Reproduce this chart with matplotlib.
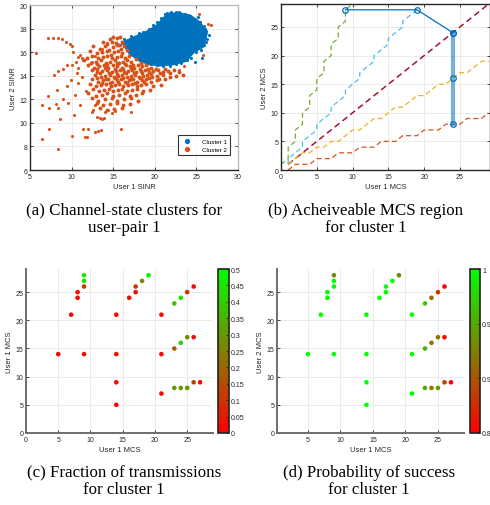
import numpy as np
import matplotlib
matplotlib.use('Agg')
import matplotlib.pyplot as plt
from matplotlib.colors import LinearSegmentedColormap

plt.rcParams['font.family'] = ['Liberation Sans', 'DejaVu Sans']

# ---------------- data: (a) channel-state clusters ----------------
blob_x = [16.2, 17.4, 19.0, 20.2, 21.4, 22.6, 24.2, 25.4, 26.2, 25.8, 24.6, 23.8, 22.2, 20.6, 19.4, 18.2, 17.0]
blob_y = [16.8, 17.2, 17.7, 18.2, 19.1, 19.3, 19.1, 18.5, 17.6, 16.5, 16.0, 15.3, 15.0, 14.9, 15.0, 15.3, 15.9]

c1_x = [16.0, 16.3, 16.8, 17.2, 17.6, 18.1, 18.6, 19.3, 19.8, 20.3, 20.7, 21.2, 21.8, 22.5, 23.0, 23.6,
        24.2, 24.8, 25.4, 25.9, 26.2, 26.5, 26.3, 25.9, 25.5, 24.9, 24.4, 23.9, 23.2, 22.5, 21.8, 21.0,
        20.3, 19.6, 18.9, 18.2, 17.6, 17.0, 16.5, 15.8, 25.7, 24.8, 26.2, 25.2, 21.5, 22.0, 22.9, 26.0]
c1_y = [16.8, 17.1, 17.0, 17.4, 17.3, 17.6, 17.7, 18.0, 18.3, 18.6, 18.9, 19.2, 19.3, 19.4, 19.3, 19.2,
        19.1, 18.8, 18.6, 18.2, 17.8, 17.5, 17.1, 16.6, 16.2, 16.0, 15.5, 15.3, 15.1, 15.0, 14.8, 14.8,
        14.9, 15.0, 15.2, 15.4, 15.7, 16.0, 16.4, 16.6, 15.5, 15.2, 16.9, 19.0, 19.3, 19.4, 19.4, 18.0]

c2_sparse_x = [5.7, 7.2, 7.8, 8.4, 8.8, 9.3, 9.8, 10.0, 10.2, 7.9, 8.4, 9.0, 9.5, 10.1, 10.5, 11.0, 11.3,
               10.8, 9.4, 8.2, 7.2, 6.5, 7.3, 8.1, 8.4, 9.0, 9.6, 8.6, 7.3, 6.5, 8.4, 10.0, 10.3, 10.8,
               11.0, 11.4, 12.0, 11.6, 11.8, 12.8, 13.2, 13.5, 12.4, 12.6, 12.8, 13.0, 13.0, 13.4, 13.7,
               13.9, 14.0, 14.4, 14.8, 15.2, 15.9, 17.2, 10.8, 11.4, 12.0, 12.4, 12.8, 13.6, 14.2,
               25.3, 26.4, 26.7, 25.8, 23.5, 22.9, 10.4, 11.2, 9.9, 11.7, 10.6]
c2_sparse_y = [15.9, 17.2, 17.2, 17.2, 17.1, 16.9, 16.7, 16.5, 16.0, 14.1, 14.4, 14.6, 14.9, 14.9, 15.2, 15.8, 15.5,
               14.7, 13.1, 12.8, 12.3, 11.5, 11.3, 11.6, 11.3, 12.0, 11.7, 10.3, 9.5, 8.6, 7.8, 8.9, 10.7, 13.4,
               11.5, 9.5, 9.5, 8.8, 8.8, 9.2, 9.3, 9.4, 10.9, 11.1, 11.5, 11.7, 10.5, 10.4, 10.3,
               10.4, 10.9, 11.1, 10.8, 11.0, 9.5, 10.9, 15.6, 15.3, 14.9, 15.2, 15.7, 16.3, 16.8,
               19.2, 18.4, 18.3, 15.8, 14.8, 14.5, 12.4, 13.9, 13.6, 12.7, 14.2]

# dense part of cluster 2
c2_dense_x = [
    14.6, 15.0, 15.4, 15.8,
    13.8, 14.3, 14.8, 15.3, 15.7, 16.0,
    12.6, 13.4, 14.0, 14.5, 15.0, 15.5, 15.9, 16.3,
    12.2, 13.0, 13.6, 14.2, 14.7, 15.1, 15.6, 16.1, 16.6,
    11.8, 12.5, 13.2, 13.8, 14.3, 14.9, 15.4, 15.9, 16.4, 16.9,
    11.5, 12.3, 12.9, 13.5, 14.1, 14.6, 15.2, 15.7, 16.2, 16.7, 17.2, 17.7,
    13.0, 14.3, 15.4, 16.4, 17.4, 18.3,
    12.0, 12.7, 13.3, 13.9, 14.4, 15.0, 15.5, 16.0, 16.5, 17.0, 17.5, 18.0, 18.5, 19.0, 19.6,
    13.0, 14.0, 15.2, 16.2, 17.2, 18.2, 19.2, 20.2, 21.2,
    12.4, 13.1, 13.7, 14.2, 14.8, 15.3, 15.8, 16.3, 16.8, 17.3, 17.8, 18.3, 18.8, 19.3, 19.8, 20.4, 21.0, 21.6, 22.3, 22.9,
    13.4, 14.5, 15.5, 16.5, 17.5, 18.5, 19.5, 20.6, 21.8,
    12.8, 13.5, 14.0, 14.6, 15.1, 15.6, 16.1, 16.6, 17.1, 17.6, 18.1, 18.6, 19.1, 19.7, 20.3, 21.0, 21.8, 22.5, 23.4,
    13.0, 14.1, 15.2, 16.2, 17.2, 18.2, 19.3, 20.5,
    12.5, 13.2, 13.8, 14.4, 14.9, 15.4, 15.9, 16.4, 16.9, 17.4, 17.9, 18.5, 19.0, 19.6, 20.3, 21.2,
    13.6, 14.6, 15.6, 16.6, 17.6, 18.7,
    12.2, 12.9, 13.5, 14.1, 14.7, 15.2, 15.7, 16.2, 16.8, 17.3, 17.9, 18.4, 19.0, 19.8, 20.8,
    12.6, 13.3, 13.9, 14.5, 15.0, 15.6, 16.1, 16.7, 17.3, 17.9, 18.6, 19.4,
    12.0, 12.9, 13.6, 14.3, 15.0, 15.7, 16.4, 17.0, 17.7, 18.5,
    12.4, 13.2, 14.0, 14.8, 15.5, 16.3, 17.1, 18.0,
    13.0, 13.8, 14.6, 15.4, 16.2, 17.0,
    13.4, 14.2, 15.1, 16.0,
]
c2_dense_y = [
    17.1, 17.3, 17.2, 17.3,
    16.9, 16.7, 16.9, 16.8, 16.6, 16.9,
    16.5, 16.3, 16.5, 16.2, 16.4, 16.6, 16.3, 16.5,
    16.1, 15.9, 16.0, 16.1, 15.8, 16.0, 16.1, 15.9, 16.2,
    15.5, 15.7, 15.5, 15.6, 15.7, 15.5, 15.6, 15.7, 15.5, 15.7,
    15.3, 15.1, 15.2, 15.3, 15.1, 15.2, 15.3, 15.1, 15.2, 15.3, 15.2, 15.4,
    15.0, 14.95, 15.05, 15.0, 14.95, 15.05,
    14.9, 14.7, 14.8, 14.9, 14.7, 14.9, 14.8, 14.7, 14.9, 14.8, 14.7, 14.9, 14.8, 14.9, 14.7,
    14.6, 14.65, 14.55, 14.6, 14.65, 14.55, 14.6, 14.6, 14.55,
    14.5, 14.3, 14.4, 14.5, 14.3, 14.4, 14.5, 14.3, 14.4, 14.5, 14.3, 14.4, 14.5, 14.3, 14.4, 14.5, 14.3, 14.4, 14.5, 14.3,
    14.2, 14.25, 14.15, 14.2, 14.25, 14.2, 14.15, 14.2, 14.25,
    14.1, 13.9, 14.0, 14.1, 13.9, 14.0, 14.1, 13.9, 14.0, 14.1, 13.9, 14.0, 14.1, 13.9, 14.0, 14.1, 13.9, 14.0, 14.1,
    13.8, 13.75, 13.85, 13.8, 13.75, 13.85, 13.8, 13.75,
    13.7, 13.5, 13.6, 13.7, 13.5, 13.6, 13.7, 13.5, 13.6, 13.7, 13.5, 13.6, 13.7, 13.5, 13.6, 13.7,
    13.4, 13.35, 13.45, 13.4, 13.35, 13.45,
    13.3, 13.1, 13.2, 13.3, 13.1, 13.2, 13.3, 13.1, 13.2, 13.3, 13.1, 13.2, 13.3, 13.1, 13.2,
    12.9, 12.7, 12.8, 12.9, 12.7, 12.8, 12.9, 12.7, 12.8, 12.9, 12.7, 12.8,
    12.5, 12.3, 12.4, 12.5, 12.3, 12.4, 12.5, 12.3, 12.4, 12.5,
    12.1, 11.9, 12.0, 12.1, 11.9, 12.0, 12.1, 11.9,
    11.7, 11.5, 11.6, 11.7, 11.5, 11.6,
    11.3, 11.1, 11.2, 11.3,
]

# ---------------- data: (b) achievable MCS region ----------------
green_x = [0, 1, 1, 2, 2, 3, 3, 4, 4, 5, 5, 6, 6, 7, 7, 8, 8, 9, 9, 10]
green_y = [1, 2, 4, 5, 7, 8, 10, 11, 13, 14, 16, 17, 19, 20, 22, 23, 25, 26, 28, 29]
cyan_x = [1, 1, 2, 3, 3, 4, 5, 5, 6, 7, 7, 8, 9, 9, 10, 11, 11, 12, 13, 13, 14, 15, 15, 16, 17, 17, 18, 19]
cyan_y = [1, 2, 3, 4, 5, 6, 7, 8, 9, 10, 11, 12, 13, 14, 15, 16, 17, 18, 19, 20, 21, 22, 23, 24, 25, 26, 27, 28]
diag_x = [1, 29]
diag_y = [1, 29]
yellow_x = [1, 2, 3, 4, 5, 6, 7, 8, 9, 10, 11, 12, 13, 14, 15, 16, 17, 18, 19, 20, 21, 22, 23, 24, 25, 26, 27, 28, 29]
yellow_y = [1, 2, 3, 3, 4, 4, 5, 5, 6, 7, 7, 8, 9, 9, 10, 11, 11, 12, 13, 13, 14, 15, 15, 16, 17, 17, 18, 19, 19]
red_x = [1, 2, 3, 4, 5, 6, 7, 8, 9, 10, 11, 12, 13, 14, 15, 16, 17, 18, 19, 20, 21, 22, 23, 24, 25, 26, 27, 28, 29]
red_y = [0, 1, 1, 1, 2, 2, 2, 3, 3, 3, 4, 4, 4, 5, 5, 5, 6, 6, 6, 7, 7, 7, 8, 8, 8, 9, 9, 9, 10]
region_x = [9, 19, 24]
region_y = [28, 28, 24]
vert_x = [24, 24, 24]
vert_y = [24, 16, 8]

# ---------------- data: (c), (d) MCS pairs of cluster 1 ----------------
mcs1 = [9, 9, 9, 8, 8, 7, 5, 9, 14, 14, 14, 14, 16, 17, 17, 18, 19,
        21, 21, 21, 23, 24, 25, 26, 23, 24, 25, 26, 23, 24, 25, 26, 27]
mcs2 = [28, 27, 26, 25, 24, 21, 14, 14, 21, 14, 9, 5, 24, 25, 26, 27, 28,
        21, 14, 7, 23, 24, 25, 26, 15, 16, 17, 17, 8, 8, 8, 9, 9]
frac_tx = [0.47, 0.45, 0.12, 0.03, 0.02, 0.02, 0.01, 0.01, 0.01, 0.01, 0.01, 0.01, 0.02, 0.03, 0.12, 0.27, 0.48,
           0.01, 0.01, 0.01, 0.37, 0.44, 0.10, 0.01, 0.18, 0.42, 0.27, 0.02, 0.30, 0.30, 0.30, 0.13, 0.02]
p_succ = [0.93, 1.0, 1.0, 1.0, 1.0, 1.0, 1.0, 1.0, 1.0, 1.0, 1.0, 1.0, 1.0, 1.0, 1.0, 1.0, 0.93,
          1.0, 1.0, 1.0, 0.97, 0.915, 0.885, 0.85, 0.96, 0.92, 0.92, 0.852, 0.95, 0.92, 0.94, 0.89, 0.851]

mat_blue = '#0072BD'
mat_orange = '#D95319'
grid_c = '#e3e3e3'
spine_c = '#262626'


def style_axes(ax, box=True):
    ax.grid(True, color=grid_c, linewidth=0.5)
    ax.set_axisbelow(True)
    ax.tick_params(direction='in', length=2.5, width=0.6, labelsize=5, colors=spine_c, pad=2,
                   top=box, right=box)
    for s in ax.spines.values():
        s.set_color(spine_c)
        s.set_linewidth(1.0)
    if not box:
        ax.spines['top'].set_visible(False)
        ax.spines['right'].set_visible(False)
        for s in ('left', 'bottom'):
            ax.spines[s].set_color('#6e6e6e')
            ax.spines[s].set_linewidth(1.4)


fig = plt.figure(figsize=(4.9, 5.06), dpi=100)

# (a)
ax = fig.add_axes([0.0612, 0.662, 0.4245, 0.326])
ax.fill(blob_x, blob_y, color=mat_blue, linewidth=2, edgecolor=mat_blue, zorder=2)
ax.scatter(c1_x, c1_y, s=5, color=mat_blue, linewidths=0, zorder=2, label='Cluster 1')
ax.scatter(c2_sparse_x, c2_sparse_y, s=5, color=mat_orange, linewidths=0, zorder=3, label='Cluster 2')
ax.scatter(c2_dense_x, c2_dense_y, s=8, color=mat_orange, linewidths=0, zorder=3)
ax.set_xlim(5, 30)
ax.set_ylim(6, 20)
ax.set_xticks([5, 10, 15, 20, 25, 30])
ax.set_yticks([6, 8, 10, 12, 14, 16, 18, 20])
style_axes(ax)
ax.spines['top'].set_color('#bbbbbb')
ax.spines['right'].set_color('#bbbbbb')
ax.set_xlabel('User 1 SINR', fontsize=5.5, labelpad=2, color=spine_c)
ax.set_ylabel('User 2 SINR', fontsize=5.5, labelpad=2, color=spine_c)
leg = ax.legend(loc='lower right', bbox_to_anchor=(0.977, 0.075), fontsize=4.5, markerscale=1.7,
                frameon=True, fancybox=False, handletextpad=1.4, borderpad=0.45, labelspacing=0.45)
leg.get_frame().set_edgecolor('black')
leg.get_frame().set_linewidth(0.8)

# (b)
ax = fig.add_axes([0.5735, 0.662, 0.4265, 0.328])
dash = (0, (4, 2.5))
ax.plot(green_x, green_y, color='#77AC30', linestyle=dash, linewidth=0.9)
ax.plot(cyan_x, cyan_y, color='#4DBEEE', linestyle=dash, linewidth=0.9)
ax.plot(diag_x, diag_y, color='#A2142F', linestyle=dash, linewidth=1.1)
ax.plot(yellow_x, yellow_y, color='#EDB120', linestyle=dash, linewidth=0.9)
ax.plot(red_x, red_y, color=mat_orange, linestyle=dash, linewidth=0.9)
ax.plot(vert_x, vert_y, color=mat_blue, alpha=0.55, linewidth=3)
ax.plot(region_x, region_y, color=mat_blue, linewidth=0.9, marker='o', markersize=4,
        markerfacecolor='none', markeredgewidth=0.9)
ax.plot(vert_x, vert_y, linestyle='none', color=mat_blue, marker='o', markersize=4,
        markerfacecolor='none', markeredgewidth=0.9)
ax.set_xlim(0, 29.2)
ax.set_ylim(0, 29.0)
ax.set_xticks([0, 5, 10, 15, 20, 25])
ax.set_yticks([0, 5, 10, 15, 20, 25])
style_axes(ax)
ax.set_xlabel('User 1 MCS', fontsize=5.5, labelpad=2, color=spine_c)
ax.set_ylabel('User 2 MCS', fontsize=5.5, labelpad=2, color=spine_c)

cmap = LinearSegmentedColormap.from_list('rg', [(1, 0, 0), (0, 1, 0)])

# (c)
ax = fig.add_axes([0.0531, 0.1423, 0.3816, 0.324])
sc = ax.scatter(mcs1, mcs2, c=frac_tx, cmap=cmap, vmin=0, vmax=0.5, s=11, linewidths=0)
ax.set_xlim(0, 29)
ax.set_ylim(0, 29.1)
ax.set_xticks([0, 5, 10, 15, 20, 25])
ax.set_yticks([0, 5, 10, 15, 20, 25])
style_axes(ax, box=False)
ax.set_xlabel('User 1 MCS', fontsize=5.5, labelpad=2, color=spine_c)
ax.set_ylabel('User 1 MCS', fontsize=5.5, labelpad=2, color=spine_c)
cax = fig.add_axes([0.4449, 0.1423, 0.0224, 0.324])
cb = fig.colorbar(sc, cax=cax, ticks=[0, 0.05, 0.1, 0.15, 0.2, 0.25, 0.3, 0.35, 0.4, 0.45, 0.5])
cb.ax.set_yticklabels(['0', '0.05', '0.1', '0.15', '0.2', '0.25', '0.3', '0.35', '0.4', '0.45', '0.5'])
cb.ax.tick_params(direction='in', length=2, width=0.5, labelsize=5, pad=1.5, colors=spine_c)
cb.outline.set_linewidth(1.2)
cb.outline.set_edgecolor('#222222')

# (d)
ax = fig.add_axes([0.5653, 0.1423, 0.3816, 0.324])
sc = ax.scatter(mcs1, mcs2, c=p_succ, cmap=cmap, vmin=0.85, vmax=1.0, s=11, linewidths=0)
ax.set_xlim(0.25, 29)
ax.set_ylim(0, 29.1)
ax.set_xticks([5, 10, 15, 20, 25])
ax.set_yticks([0, 5, 10, 15, 20, 25])
style_axes(ax, box=False)
ax.set_xlabel('User 1 MCS', fontsize=5.5, labelpad=2, color=spine_c)
ax.set_ylabel('User 2 MCS', fontsize=5.5, labelpad=2, color=spine_c)
cax = fig.add_axes([0.959, 0.1423, 0.0204, 0.324])
cb = fig.colorbar(sc, cax=cax, ticks=[0.85, 0.9, 0.95, 1.0])
cb.ax.set_yticklabels(['0.85', '0.9', '0.95', '1'])
cb.ax.tick_params(direction='in', length=2, width=0.5, labelsize=5, pad=1.5, colors=spine_c)
cb.outline.set_linewidth(1.2)
cb.outline.set_edgecolor('#222222')

# captions
cap = dict(ha='center', va='center', fontsize=12.2, family=['Liberation Serif', 'DejaVu Serif'],
           linespacing=1.12)
fig.text(0.253, 0.566, '(a) Channel-state clusters for\nuser-pair 1', **cap)
fig.text(0.747, 0.566, '(b) Acheiveable MCS region\nfor cluster 1', **cap)
fig.text(0.253, 0.048, '(c) Fraction of transmissions\nfor cluster 1', **cap)
fig.text(0.753, 0.048, '(d) Probability of success\nfor cluster 1', **cap)

fig.savefig('out.png', dpi=100)
